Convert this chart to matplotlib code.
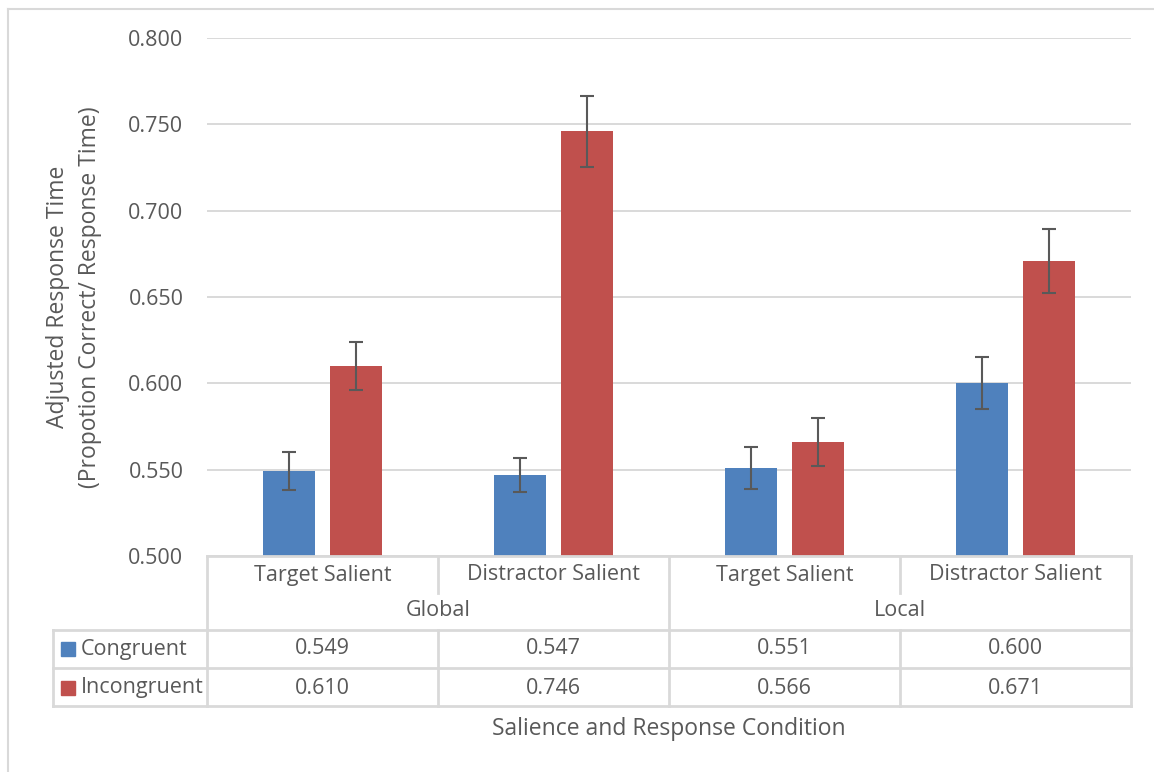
import matplotlib
matplotlib.use("Agg")
import matplotlib.pyplot as plt
from matplotlib.lines import Line2D
from matplotlib.patches import Rectangle
import numpy as np

plt.rcParams['font.family'] = ['Open Sans', 'DejaVu Sans']

# ---- data ----
groups = ["Global", "Local"]
categories = ["Target Salient", "Distractor Salient", "Target Salient", "Distractor Salient"]
series_names = ["Congruent", "Incongruent"]
congruent = [0.549, 0.547, 0.551, 0.600]
incongruent = [0.610, 0.746, 0.566, 0.671]
congruent_err = [0.011, 0.010, 0.012, 0.015]
incongruent_err = [0.014, 0.0205, 0.014, 0.0185]
y_ticks = [0.500, 0.550, 0.600, 0.650, 0.700, 0.750, 0.800]

W, H = 1154, 772
TXT = "#595959"
GRID = "#d9d9d9"
BLUE = "#4F81BD"
RED = "#C0504D"

fig = plt.figure(figsize=(W / 100, H / 100), dpi=100)

def fx(x):
    return x / W

def fy(y):
    return 1 - y / H

L, R, T, B = 207, 1131, 38, 556
ax = fig.add_axes([fx(L), fy(B), fx(R) - fx(L), fy(T) - fy(B)])

x = np.arange(len(categories))
bw = 0.225
off = 0.143
ax.bar(x - off, congruent, bw, color=BLUE, zorder=3)
ax.bar(x + off, incongruent, bw, color=RED, zorder=3)
ek = dict(fmt="none", ecolor=TXT, elinewidth=1.5, capsize=5, capthick=1.5, zorder=4)
ax.errorbar(x - off, congruent, yerr=congruent_err, **ek)
ax.errorbar(x + off, incongruent, yerr=incongruent_err, **ek)

fs = 15.5
ax.set_xlim(-0.5, len(categories) - 0.5)
ax.set_ylim(0.5, 0.8)
ax.set_yticks(y_ticks)
ax.set_yticklabels([f"{v:.3f}" for v in y_ticks], color=TXT, fontsize=fs)
ax.tick_params(axis="y", length=0, pad=17)
ax.set_xticks([])
ax.grid(axis="y", color=GRID, lw=1.4, zorder=0)
for s in ax.spines.values():
    s.set_visible(False)

# ---- table lines ----
def hline(x0, x1, y):
    fig.add_artist(Line2D([fx(x0), fx(x1)], [fy(y), fy(y)], color=GRID, lw=2, zorder=5))

def vline(x0, y0, y1):
    fig.add_artist(Line2D([fx(x0), fx(x0)], [fy(y0), fy(y1)], color=GRID, lw=2, zorder=5))

colw = (R - L) / 4
cols = [L + i * colw for i in range(5)]
r0, r1, r2, r3, r4 = 556, 593, 630, 668, 706
LEFT = 53
hline(L, R, r0)
hline(LEFT, R, r2)
hline(LEFT, R, r3)
hline(LEFT, R, r4)
vline(LEFT, r2, r4)
vline(cols[0], r0, r4)
vline(cols[2], r0, r4)
vline(cols[4], r0, r4)
for c in (cols[1], cols[3]):
    vline(c, r0, r1)
    vline(c, r2, r4)

for i, cat in enumerate(categories):
    cx = (cols[i] + cols[i + 1]) / 2
    fig.text(fx(cx), fy(575), cat, ha="center", va="center", color=TXT, fontsize=fs)
    fig.text(fx(cx), fy(649), f"{congruent[i]:.3f}", ha="center", va="center", color=TXT, fontsize=fs)
    fig.text(fx(cx), fy(688), f"{incongruent[i]:.3f}", ha="center", va="center", color=TXT, fontsize=fs)
for g, gname in enumerate(groups):
    cx = (cols[2 * g] + cols[2 * g + 2]) / 2
    fig.text(fx(cx), fy(611), gname, ha="center", va="center", color=TXT, fontsize=fs)

for name, col, yy in [(series_names[0], BLUE, 649), (series_names[1], RED, 688)]:
    fig.add_artist(Rectangle((fx(61), fy(yy + 7)), fx(14), 14 / H, color=col, zorder=6))
    fig.text(fx(81), fy(yy), name, ha="left", va="center", color=TXT, fontsize=fs)

fig.text(fx((L + R) / 2), fy(729), "Salience and Response Condition",
         ha="center", va="center", color=TXT, fontsize=16.5)
fig.text(fx(74), fy((T + B) / 2),
         "Adjusted Response Time\n(Propotion Correct/ Response Time)",
         ha="center", va="center", rotation=90, color=TXT, fontsize=16.5, linespacing=1.4)

# chart border
fig.add_artist(Line2D([fx(8), fx(8)], [fy(9), 0], color=GRID, lw=1.5))
fig.add_artist(Line2D([fx(8), 1], [fy(9), fy(9)], color=GRID, lw=1.5))

fig.savefig("out.png", dpi=100)
